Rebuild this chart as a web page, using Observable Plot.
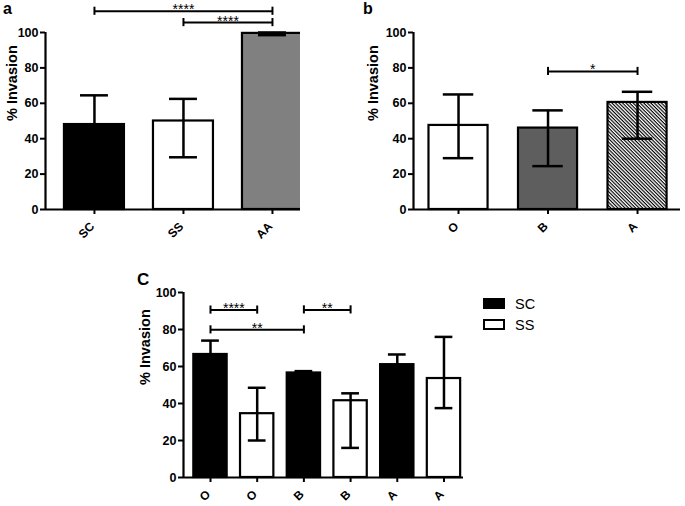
<!DOCTYPE html>
<html><head><meta charset="utf-8">
<script src="https://cdn.jsdelivr.net/npm/d3@7"></script>
<script src="https://cdn.jsdelivr.net/npm/@observablehq/plot@0.6"></script>
<style>
body{margin:0;background:#fff;}
#root{position:relative;width:685px;height:506px;font-family:"Liberation Sans",Arial,sans-serif;overflow:hidden;background:#fff;}
.pl{position:absolute;}
.lbl{position:absolute;z-index:5;font-weight:bold;font-size:16px;line-height:16px;color:#000;}
.sw{position:absolute;z-index:5;width:22px;height:11px;box-sizing:border-box;border:2.5px solid #000;}
.lt{position:absolute;z-index:5;font-size:14.5px;line-height:14px;color:#000;}
</style></head><body>
<svg width="0" height="0" style="position:absolute"><defs>
<pattern id="hatch" width="2.5" height="2.5" patternUnits="userSpaceOnUse" patternTransform="rotate(45)">
<rect width="2.5" height="2.5" fill="white"/><rect width="2.5" height="1.15" fill="black"/>
</pattern></defs></svg>
<div id="root">
  <div class="lbl" style="left:3px;top:1px;">a</div>
  <div class="lbl" style="left:363px;top:1px;">b</div>
  <div class="lbl" style="left:137px;top:272px;font-size:17px;">C</div>
  <div class="sw" style="left:483px;top:298px;background:#000;"></div>
  <div class="sw" style="left:483px;top:319px;background:#fff;"></div>
  <div class="lt" style="left:515px;top:297px;">SC</div>
  <div class="lt" style="left:515px;top:318px;">SS</div>
</div>
<script>
// Panel a
const aCats = ["SC", "SS", "AA"];
const aMean = [48, 50, 99.5];
const aLow = [48, 29.5, 98.5];
const aHigh = [64.5, 62.5, 100];
const aFill = ["black", "white", "#808080"];
const aBrFrom = [0, 1];
const aBrTo = [2, 2];
const aBrY = [112, 105.6];
const aBrText = ["****", "****"];

// Panel b
const bCats = ["O", "B", "A"];
const bMean = [47.5, 46, 60.5];
const bLow = [29, 24.5, 40];
const bHigh = [65, 56, 66.5];
const bFill = ["white", "#5e5e5e", "url(#hatch)"];
const bBrFrom = [1];
const bBrTo = [2];
const bBrY = [78];
const bBrText = ["*"];

// Panel c
const cCats = ["O", "O", "B", "B", "A", "A"];
const cGroup = ["SC", "SS", "SC", "SS", "SC", "SS"];
const cMean = [66.5, 34.5, 56.5, 41.5, 61, 53.5];
const cLow = [66.5, 20, 56.5, 16, 61, 37.5];
const cHigh = [74, 48.5, 57.5, 45.5, 66.5, 76];
const cFill = ["black", "white", "black", "white", "black", "white"];
const cBrFrom = [0, 0, 2];
const cBrTo = [1, 2, 3];
const cBrY = [90.5, 79.8, 90.6];
const cBrText = ["****", "**", "**"];

const yTicks = [0, 20, 40, 60, 80, 100];

function drawPanel(o) {
  const rows = o.cats.map((c, i) => ({i, cat: c, mean: o.mean[i], low: o.low[i], high: o.high[i], fill: o.fill[i]}));
  const br = o.brFrom.map((f, k) => ({x1: f, x2: o.brTo[k], y: o.brY[k], t: o.brText[k], mid: (f + o.brTo[k]) / 2}));
  const brEnds = br.flatMap(b => [{x: b.x1, y: b.y}, {x: b.x2, y: b.y}]);
  const svg = Plot.plot({
    width: o.width, height: o.height,
    marginLeft: o.ml, marginRight: o.mr, marginTop: o.mt, marginBottom: o.mb,
    x: {domain: o.xdom},
    y: {domain: [0, 100]},
    color: {type: "identity"},
    style: {fontFamily: "'Liberation Sans', Arial, sans-serif", fontSize: "12.5px", fontWeight: "bold", color: "black", background: "white", overflow: "hidden"},
    marks: [
      Plot.rectY(rows, {x1: d => d.i - o.hw, x2: d => d.i + o.hw, y1: 0, y2: "mean", fill: "fill", stroke: "black", strokeWidth: 2.2}),
      Plot.ruleX(rows, {x: "i", y1: "low", y2: "high", strokeWidth: 2.5}),
      Plot.ruleY(rows, {y: "high", x1: d => d.i - o.cap, x2: d => d.i + o.cap, strokeWidth: 2.5}),
      Plot.ruleY(rows.filter(d => d.low < d.mean), {y: "low", x1: d => d.i - o.cap, x2: d => d.i + o.cap, strokeWidth: 2.5}),
      Plot.ruleY([0], {strokeWidth: 2.2}),
      Plot.ruleX([o.xdom[0]], {y1: 0, y2: 100, strokeWidth: 2.2}),
      Plot.axisY({ticks: yTicks, tickSize: 5, strokeWidth: 2, tickPadding: 2, label: null}),
      Plot.axisX({ticks: rows.map(d => d.i), tickFormat: () => "", tickSize: 5, strokeWidth: 2, label: null}),
      Plot.text(rows, {x: "i", text: "cat", frameAnchor: "bottom", rotate: -45, textAnchor: "end", lineAnchor: "middle", dx: -2, dy: 15, fontSize: 12, fontWeight: "bold"}),
      Plot.ruleY(br, {y: "y", x1: "x1", x2: "x2", strokeWidth: 2}),
      Plot.ruleX(brEnds, {x: "x", y1: d => d.y - o.bh, y2: d => d.y + o.bh, strokeWidth: 2}),
      Plot.text(br, {x: "mid", y: "y", text: "t", fontSize: 14, fontWeight: "normal", lineAnchor: "bottom", dy: 3}),
      Plot.text(["% Invasion"], {frameAnchor: "left", text: d => d, rotate: -90, dx: o.lx, fontSize: 14.5, fontWeight: "bold"})
    ]
  });
  svg.classList.add("pl");
  svg.style.left = o.left + "px";
  svg.style.top = o.top + "px";
  svg.style.position = "absolute";
  document.getElementById("root").appendChild(svg);
}

drawPanel({cats: aCats, mean: aMean, low: aLow, high: aHigh, fill: aFill,
  brFrom: aBrFrom, brTo: aBrTo, brY: aBrY, brText: aBrText,
  left: 0, top: 0, width: 300, height: 252, ml: 45, mr: 0, mt: 32, mb: 43,
  xdom: [-0.55, 2.315], hw: 0.337, cap: 0.157, bh: 2.3, lx: -33});

drawPanel({cats: bCats, mean: bMean, low: bLow, high: bHigh, fill: bFill,
  brFrom: bBrFrom, brTo: bBrTo, brY: bBrY, brText: bBrText,
  left: 340, top: 0, width: 345, height: 252, ml: 73, mr: 5, mt: 32, mb: 43,
  xdom: [-0.503, 2.48], hw: 0.33, cap: 0.17, bh: 2.3, lx: -40});

drawPanel({cats: cCats, mean: cMean, low: cLow, high: cHigh, fill: cFill,
  brFrom: cBrFrom, brTo: cBrTo, brY: cBrY, brText: cBrText,
  left: 130, top: 260, width: 340, height: 246, ml: 53, mr: 7, mt: 32, mb: 29,
  xdom: [-0.578, 5.418], hw: 0.357, cap: 0.19, bh: 2.2, lx: -38});
</script>
</body></html>
